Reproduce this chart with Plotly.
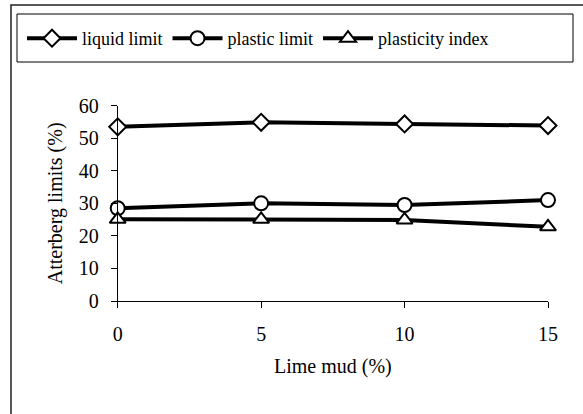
import plotly.graph_objects as go

W, H = 583, 414

lime_mud = [0, 5, 10, 15]
liquid_limit = [53.5, 54.9, 54.4, 53.9]
plastic_limit = [28.5, 30.0, 29.5, 31.0]
plasticity_index = [25.1, 25.1, 24.9, 22.8]

series = [
    ("liquid limit", liquid_limit, "diamond", 13),
    ("plastic limit", plastic_limit, "circle", 14),
    ("plasticity index", plasticity_index, "triangle-up", 14),
]

FONT = "Liberation Serif"
AX_FONT = dict(family=FONT, size=20, color="black")

fig = go.Figure()
for name, vals, sym, size in series:
    fig.add_trace(go.Scatter(
        x=lime_mud, y=vals, name=name, mode="lines+markers",
        line=dict(color="black", width=4),
        marker=dict(symbol=sym, size=size, color="white",
                    line=dict(color="black", width=2)),
        cliponaxis=False,
    ))

def px(x):
    return x / W

def py(y):
    return 1 - y / H

x0, x1 = 117.7, 548.0
y0, y1 = 301.0, 105.7

fig.update_layout(
    template="none",
    width=W, height=H,
    margin=dict(l=0, r=0, t=0, b=0),
    paper_bgcolor="white", plot_bgcolor="white",
    font=AX_FONT,
    showlegend=True,
    legend=dict(
        orientation="h",
        x=px(22), y=py(20), xanchor="left", yanchor="top",
        borderwidth=0, bgcolor="rgba(0,0,0,0)",
        font=dict(family=FONT, size=18, color="black"),
        itemwidth=50,
        itemclick=False,
    ),
    xaxis=dict(
        domain=[px(x0), px(x1)], range=[0, 15],
        tickvals=[0, 5, 10, 15], ticks="outside", ticklen=6,
        tickcolor="black", tickwidth=1, tickfont=AX_FONT,
        showline=True, linecolor="black", linewidth=1,
        showgrid=False, zeroline=False,
        ticklabelstandoff=9,
        title=dict(text="Lime mud (%)", standoff=14, font=AX_FONT),
        anchor="y",
    ),
    yaxis=dict(
        domain=[py(y0), py(y1)], range=[0, 60],
        tickvals=[0, 10, 20, 30, 40, 50, 60], ticks="outside", ticklen=6,
        tickcolor="black", tickwidth=1, tickfont=AX_FONT,
        showline=True, linecolor="black", linewidth=1,
        showgrid=False, zeroline=False,
        ticklabelstandoff=8,
        title=dict(text="Atterberg limits (%)", standoff=10, font=AX_FONT),
        anchor="x",
    ),
    shapes=[
        dict(type="rect", xref="paper", yref="paper",
             x0=px(11), x1=px(620), y0=py(5), y1=py(450),
             line=dict(color="#222", width=1.5), layer="below"),
        dict(type="rect", xref="paper", yref="paper",
             x0=px(17), x1=px(573), y0=py(14), y1=py(62),
             line=dict(color="black", width=1), layer="below"),
    ],
)

fig.write_html("out.html")
